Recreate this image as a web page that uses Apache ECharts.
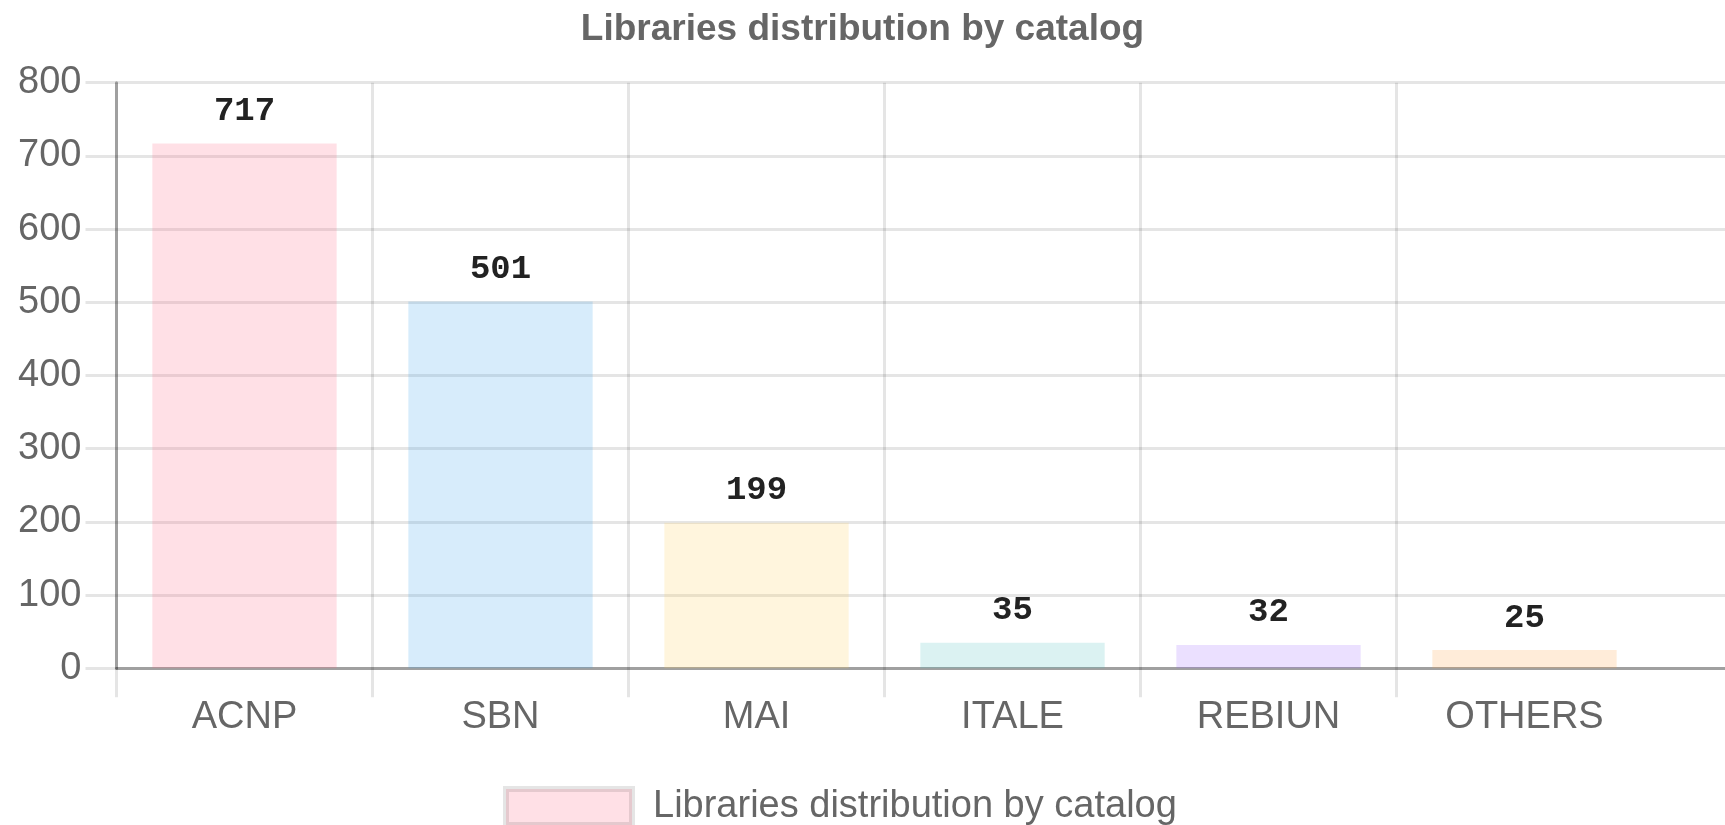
<!DOCTYPE html>
<html>
<head>
<meta charset="utf-8">
<script src="https://cdn.jsdelivr.net/npm/echarts@6/dist/echarts.min.js"></script>
<style>
  html, body { margin: 0; padding: 0; background: #fff; }
  #chart { width: 1725px; height: 825px; }
</style>
</head>
<body>
<div id="chart"></div>
<script>
// Data
const chartTitle = 'Libraries distribution by catalog';
const seriesName = 'Libraries distribution by catalog';
const categories = ['ACNP', 'SBN', 'MAI', 'ITALE', 'REBIUN', 'OTHERS'];
const values = [717, 501, 199, 35, 32, 25];
const barColors = [
  'rgba(255,99,132,0.2)',
  'rgba(54,162,235,0.2)',
  'rgba(255,206,86,0.2)',
  'rgba(75,192,192,0.2)',
  'rgba(153,102,255,0.2)',
  'rgba(255,159,64,0.2)'
];
const yTicks = { min: 0, max: 800, interval: 100 };

// The reference grid continues past the right edge of the picture:
// one trailing empty slot keeps the category width while its boundary stays hidden.
const axisCategories = categories.concat(['']);
const seriesData = values.map((v, i) => ({ value: v, itemStyle: { color: barColors[i] } }));
seriesData.push({ value: '-', label: { show: false } });

const FONT = 'Liberation Sans, Arial, Helvetica, sans-serif';
const GRID_LINE = 'rgba(0,0,0,0.1)';
const AXIS_LINE = 'rgba(0,0,0,0.3)';
const visibleBoundary = (index) => index < categories.length;

const chart = echarts.init(document.getElementById('chart'), null, { renderer: 'canvas' });
chart.setOption({
  animation: false,
  backgroundColor: '#ffffff',
  title: {
    text: chartTitle,
    left: 'center',
    top: 6,
    padding: 5,
    textStyle: { fontFamily: FONT, fontSize: 37, fontWeight: 'bold', color: '#666666' }
  },
  legend: {
    left: 503,
    top: 786,
    padding: 0,
    itemWidth: 126,
    itemHeight: 36,
    icon: 'rect',
    data: [{
      name: seriesName,
      itemStyle: { color: barColors[0], borderColor: 'rgba(0,0,0,0.1)', borderWidth: 6 }
    }],
    textStyle: { fontFamily: FONT, fontSize: 38, color: '#666666', padding: [0, 0, 16, 16] }
  },
  grid: {
    left: 116.5, top: 82.7, height: 585.6, width: 1792,
    containLabel: false,
    outerBoundsMode: 'none'
  },
  xAxis: {
    type: 'category',
    data: axisCategories,
    boundaryGap: true,
    axisLine: { show: true, lineStyle: { color: AXIS_LINE, width: 3 } },
    axisTick: { show: true, length: 29, interval: visibleBoundary, lineStyle: { color: GRID_LINE, width: 3 } },
    splitLine: { show: true, interval: visibleBoundary, lineStyle: { color: GRID_LINE, width: 3 } },
    axisLabel: { interval: 0, margin: 30, fontFamily: FONT, fontSize: 38, color: '#666666' }
  },
  yAxis: {
    type: 'value',
    min: yTicks.min,
    max: yTicks.max,
    interval: yTicks.interval,
    axisLine: { show: true, lineStyle: { color: AXIS_LINE, width: 3 } },
    axisTick: { show: true, length: 31, lineStyle: { color: GRID_LINE, width: 3 } },
    splitLine: { show: true, lineStyle: { color: GRID_LINE, width: 3 } },
    axisLabel: { margin: 35, fontFamily: FONT, fontSize: 38, color: '#666666', padding: [0, 0, 8, 0] }
  },
  series: [{
    name: seriesName,
    type: 'bar',
    data: seriesData,
    barWidth: '72%',
    itemStyle: { color: barColors[0] },
    label: {
      show: true,
      position: 'top',
      distance: 15,
      fontFamily: 'Liberation Mono, Courier New, monospace',
      fontWeight: 'bold',
      fontSize: 34,
      color: '#222222'
    }
  }]
});
</script>
</body>
</html>
